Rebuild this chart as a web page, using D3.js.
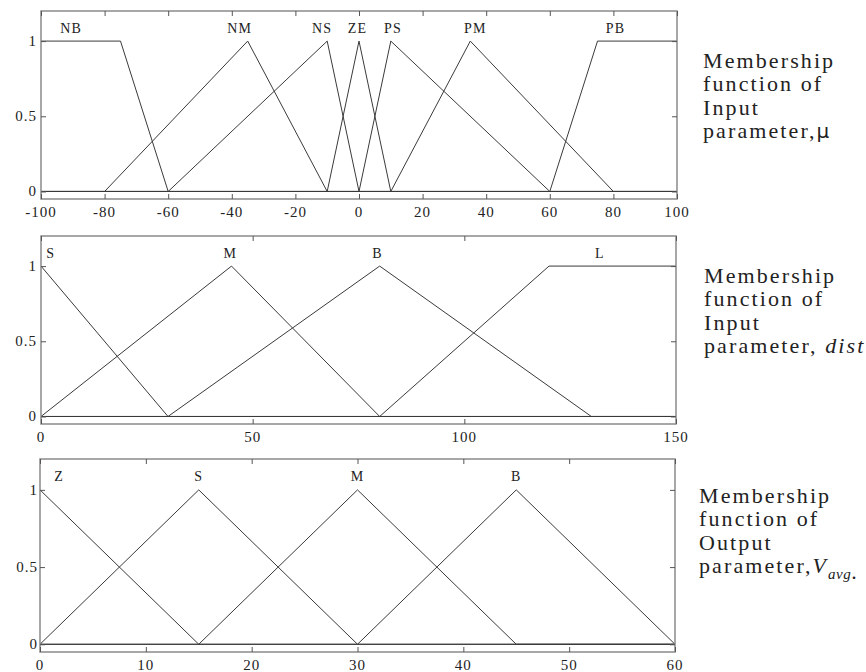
<!DOCTYPE html>
<html>
<head>
<meta charset="utf-8">
<script src="https://cdn.jsdelivr.net/npm/d3@7"></script>
<style>
  html, body { margin: 0; padding: 0; background: #fff; }
  svg { display: block; }
  text { font-family: "Liberation Serif", "Times New Roman", serif; fill: #222; }
</style>
</head>
<body>
<svg id="chart" width="866" height="672"></svg>
<script>
// ---------- data ----------
// Input parameter mu
const muDomain = [-100, 100];
const muTicks = [-100, -80, -60, -40, -20, 0, 20, 40, 60, 80, 100];
const muNames = ["NB", "NM", "NS", "ZE", "PS", "PM", "PB"];
const muParams = [
  [-100, -100, -75, -60],
  [-80, -35, -35, -10],
  [-60, -10, -10, 0],
  [-10, 0, 0, 10],
  [0, 10, 10, 60],
  [10, 35, 35, 80],
  [60, 75, 100, 100]
];
const muLabelX = [-90.5, -37.5, -11.6, -0.5, 10.7, 36.6, 80.7];

// Input parameter dist
const distDomain = [0, 150];
const distTicks = [0, 50, 100, 150];
const distNames = ["S", "M", "B", "L"];
const distParams = [
  [0, 0, 0, 30],
  [0, 45, 45, 80],
  [30, 80, 80, 130],
  [80, 120, 150, 150]
];
const distLabelX = [2.3, 44.7, 79.5, 132];

// Output parameter Vavg
const vDomain = [0, 60];
const vTicks = [0, 10, 20, 30, 40, 50, 60];
const vNames = ["Z", "S", "M", "B"];
const vParams = [
  [0, 0, 0, 15],
  [0, 15, 15, 30],
  [15, 30, 30, 45],
  [30, 45, 45, 60]
];
const vLabelX = [1.8, 15, 30, 45];

const yTicks = [0, 0.5, 1];
const yTickLabels = ["0", "0.5", "1"];
const yDomain = [-0.05, 1.2];

// ---------- drawing ----------
function trap(x, p) {
  const [a, b, c, d] = p;
  if (x >= b && x <= c) return 1;
  if (x < a || x > d) return 0;
  if (x < b) return (x - a) / (b - a);
  return (d - x) / (d - c);
}

const svg = d3.select("#chart");

const panels = [
  { domain: muDomain, ticks: muTicks, names: muNames, params: muParams, labelX: muLabelX,
    box: { l: 41, r: 677, t: 11, b: 199 }, ylabOff: 4,
    text: { x: 703, y: 68, lines: [["Membership"], ["function of"], ["Input"], ["parameter,", {t: "μ", sans: true}]] } },
  { domain: distDomain, ticks: distTicks, names: distNames, params: distParams, labelX: distLabelX,
    box: { l: 41, r: 676, t: 236, b: 424 }, ylabOff: 4,
    text: { x: 704, y: 283, lines: [["Membership"], ["function of"], ["Input"], ["parameter, ", {t: "dist", it: true}]] } },
  { domain: vDomain, ticks: vTicks, names: vNames, params: vParams, labelX: vLabelX,
    box: { l: 40, r: 675, t: 459, b: 652 }, ylabOff: 2,
    text: { x: 699, y: 503, lines: [["Membership"], ["function of"], ["Output"], ["parameter,", {t: "V", it: true}, {t: "avg", it: true, sub: true}, "."]] } }
];

panels.forEach(P => {
  const B = P.box;
  const x = d3.scaleLinear().domain(P.domain).range([B.l, B.r]);
  const y = d3.scaleLinear().domain(yDomain).range([B.b, B.t]);
  const g = svg.append("g");

  // membership function curves
  const line = d3.line().x(d => x(d[0])).y(d => y(d[1]));
  P.params.forEach(p => {
    const xs = Array.from(new Set([P.domain[0], ...p, P.domain[1]]))
      .filter(v => v >= P.domain[0] && v <= P.domain[1]).sort((a, b) => a - b);
    const pts = xs.map(v => [v, trap(v, p)]);
    g.append("path").attr("d", line(pts))
      .attr("fill", "none").attr("stroke", "#3a3a3a").attr("stroke-width", 1);
  });

  // frame
  g.append("rect").attr("x", B.l).attr("y", B.t)
    .attr("width", B.r - B.l).attr("height", B.b - B.t)
    .attr("fill", "none").attr("stroke", "#8a8a8a").attr("stroke-width", 1.5);

  // x ticks (inward, top and bottom)
  const xb = d3.axisBottom(x).tickValues(P.ticks).tickSize(-5).tickFormat("");
  const xt = d3.axisTop(x).tickValues(P.ticks).tickSize(-5).tickFormat("");
  [[xb, B.b], [xt, B.t]].forEach(([ax, pos]) => {
    const a = g.append("g").attr("transform", `translate(0,${pos})`).call(ax);
    a.select(".domain").remove();
    a.selectAll("line").attr("stroke", "#555");
  });
  // y ticks (inward, left and right)
  const yl = d3.axisLeft(y).tickValues(yTicks).tickSize(-5).tickFormat("");
  const yr = d3.axisRight(y).tickValues(yTicks).tickSize(-5).tickFormat("");
  [[yl, B.l], [yr, B.r]].forEach(([ax, pos]) => {
    const a = g.append("g").attr("transform", `translate(${pos},0)`).call(ax);
    a.select(".domain").remove();
    a.selectAll("line").attr("stroke", "#555");
  });

  // x tick labels
  g.selectAll(".xl").data(P.ticks).enter().append("text")
    .attr("x", d => x(d)).attr("y", B.b + 18)
    .attr("text-anchor", "middle").attr("font-size", 15).attr("letter-spacing", 1)
    .text(d => d);
  // y tick labels
  g.selectAll(".yl").data(yTicks).enter().append("text")
    .attr("x", B.l - P.ylabOff).attr("y", d => y(d) + 5)
    .attr("text-anchor", "end").attr("font-size", 15).attr("letter-spacing", 1)
    .text((d, i) => yTickLabels[i]);

  // MF names
  g.selectAll(".mf").data(P.names).enter().append("text")
    .attr("x", (d, i) => x(P.labelX[i])).attr("y", y(1.09) + 5)
    .attr("text-anchor", "middle").attr("font-size", 14).attr("letter-spacing", 1.2)
    .text(d => d);

  // side description
  const T = P.text;
  T.lines.forEach((parts, i) => {
    const t = svg.append("text").attr("x", T.x).attr("y", T.y + i * 23.3)
      .attr("font-size", 22).attr("letter-spacing", 2.1);
    parts.forEach(pt => {
      if (typeof pt === "string") { t.append("tspan").text(pt); return; }
      const s = t.append("tspan").text(pt.t);
      if (pt.it) s.attr("font-style", "italic");
      if (pt.sans) s.attr("font-family", "DejaVu Sans").attr("font-size", 20);
      if (pt.sub) s.attr("font-size", 15).attr("dy", 6).attr("letter-spacing", 0.5);
    });
  });
});
</script>
</body>
</html>
